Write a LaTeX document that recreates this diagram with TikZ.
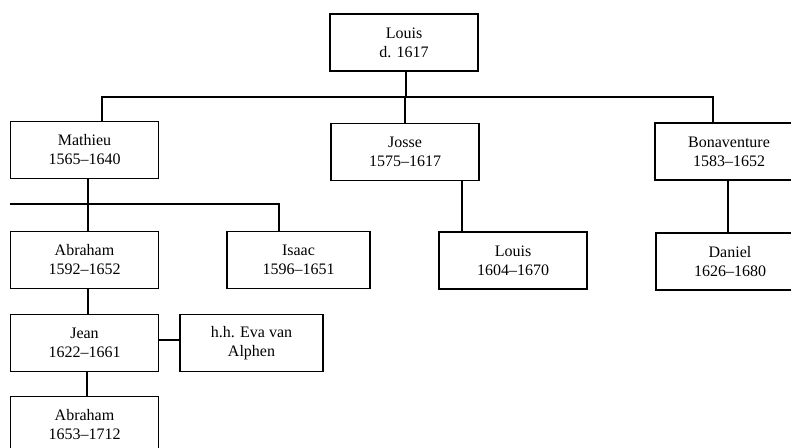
\documentclass[tikz,border=0pt]{standalone}
\usepackage{fontspec}
\setmainfont{Liberation Serif}
\begin{document}
\begin{tikzpicture}[x=1pt,y=-1pt,
  box/.style={draw,line width=1.1pt,minimum width=148pt,minimum height=57pt,align=center,
    font=\fontsize{16}{19}\selectfont,inner sep=0pt},
  conn/.style={line width=1.4pt}]
\useasboundingbox (0,0) rectangle (791,447);
\clip (0,0) rectangle (791,447);
\node[box] (louis)   at (404,42.5)  {Louis\\d. 1617};
\node[box] (mathieu) at (84.5,150)  {Mathieu\\1565–1640};
\node[box] (josse)   at (405,152)   {Josse\\1575–1617};
\node[box] (bonav)   at (729,151.5) {Bonaventure\\1583–1652};
\node[box] (abraham) at (84.5,260)  {Abraham\\1592–1652};
\node[box,minimum width=143pt] (isaac) at (298.5,260) {Isaac\\1596–1651};
\node[box] (louis2)  at (513,260.5) {Louis\\1604–1670};
\node[box] (daniel)  at (730,261.5) {Daniel\\1626–1680};
\node[box] (jean)    at (84.5,343)  {Jean\\1622–1661};
\node[box,minimum width=143pt] (eva) at (251.5,343) {h.h. Eva van\\Alphen};
\node[box] (abraham2) at (84.5,425) {Abraham\\1653–1712};
\coordinate (bL) at (102,97);
\coordinate (bR) at (713,97);
\coordinate (m1) at (10,204);
\coordinate (m2) at (279,204);
\draw[conn] ([xshift=2pt]louis.south) -- ([xshift=2pt]louis.south |- bL);
\draw[conn] (mathieu.north -| bL) -- (bL) -- (bR) -- (bonav.north -| bR);
\draw[conn] (josse.north) -- (josse.north |- bL);
\draw[conn] ([xshift=3.5pt]mathieu.south) -- ([xshift=3.5pt]mathieu.south |- abraham.north);
\draw[conn] (m1) -- (m2) -- (isaac.north -| m2);
\draw[conn] ([xshift=57pt]josse.south) -- ([xshift=57pt]josse.south |- louis2.north);
\draw[conn] ([xshift=-1pt]bonav.south) -- ([xshift=-1pt]bonav.south |- daniel.north);
\draw[conn] ([xshift=3.5pt]abraham.south) -- ([xshift=3.5pt]abraham.south |- jean.north);
\draw[conn] ([yshift=3pt]jean.east) -- ([yshift=3pt]jean.east -| eva.west);
\draw[conn] ([xshift=2.5pt]jean.south) -- ([xshift=2.5pt]jean.south |- abraham2.north);
\end{tikzpicture}
\end{document}
